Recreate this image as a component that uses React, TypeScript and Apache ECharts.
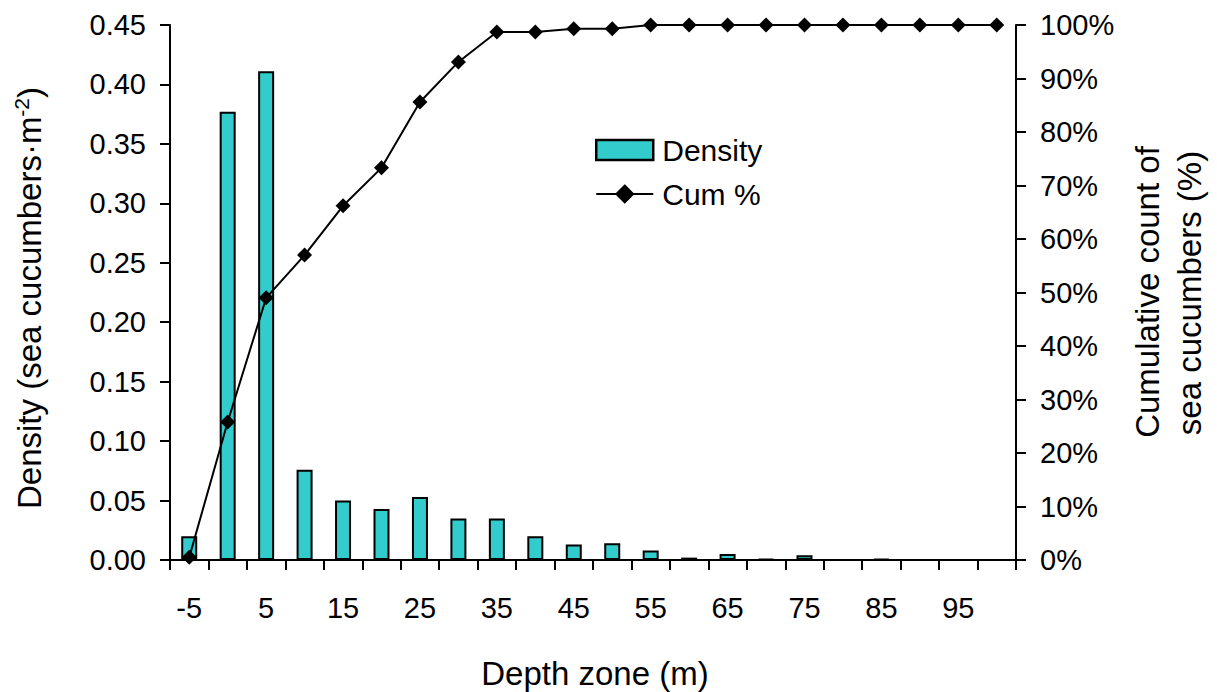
import React, { useEffect, useRef } from "react";
import * as echarts from "echarts";

const categories = ["-5","0","5","10","15","20","25","30","35","40","45","50","55","60","65","70","75","80","85","90","95","100"];
const density = [0.020,0.377,0.411,0.076,0.050,0.043,0.053,0.035,0.035,0.020,0.013,0.014,0.008,0.002,0.005,0.001,0.004,0,0.001,0,0,0];
const cumPct = [0.5,25.8,49.0,57.0,66.2,73.3,85.6,93.1,98.7,98.7,99.3,99.3,100,100,100,100,100,100,100,100,100,100];

const FONT = "Liberation Sans, Arial, sans-serif";
const FS = 29;
const TFS = 33;

export default function App() {
  const ref = useRef<HTMLDivElement>(null);
  useEffect(() => {
    if (!ref.current) return;
    const chart = echarts.init(ref.current, null, { renderer: "svg" });
    const axisLine = { show: true, lineStyle: { color: "#000", width: 2 } };
    const axisTick = { show: true, inside: false, length: 10, lineStyle: { color: "#000", width: 2 } };
    chart.setOption({
      animation: false,
      textStyle: { fontFamily: FONT, color: "#000" },
      grid: { left: 170, right: 201, top: 25, bottom: 132, containLabel: false },
      legend: {
        orient: "vertical",
        left: 590,
        top: 130,
        itemWidth: 57,
        itemHeight: 20,
        itemGap: 14,
        itemStyle: { borderColor: "#000", borderWidth: 2.5 },
        textStyle: { fontFamily: FONT, fontSize: 30, color: "#000", padding: [0, 0, 0, 4] },
        data: [
          { name: "Density", icon: "rect" },
          { name: "Cum %" },
        ],
      },
      xAxis: {
        type: "category",
        data: categories,
        boundaryGap: true,
        axisLine,
        axisTick: { ...axisTick, interval: 0, alignWithLabel: false },
        axisLabel: { interval: 1, margin: 33, fontSize: FS, fontFamily: FONT, color: "#000" },
        splitLine: { show: false },
      },
      yAxis: [
        {
          type: "value",
          min: 0,
          max: 0.45,
          interval: 0.05,
          position: "left",
          axisLine,
          axisTick,
          axisLabel: { margin: 24, fontSize: FS, fontFamily: FONT, color: "#000", formatter: (v: number) => v.toFixed(2) },
          splitLine: { show: false },
        },
        {
          type: "value",
          min: 0,
          max: 100,
          interval: 10,
          position: "right",
          axisLine,
          axisTick,
          axisLabel: { margin: 24, fontSize: FS, fontFamily: FONT, color: "#000", formatter: "{value}%" },
          splitLine: { show: false },
        },
      ],
      series: [
        {
          name: "Density",
          type: "bar",
          yAxisIndex: 0,
          data: density,
          barWidth: 16,
          itemStyle: { color: "#33CCCC", borderColor: "#000", borderWidth: 2 },
        },
        {
          name: "Cum %",
          type: "line",
          yAxisIndex: 1,
          data: cumPct,
          symbol: "diamond",
          symbolSize: 15,
          itemStyle: { color: "#000" },
          lineStyle: { color: "#000", width: 2 },
        },
      ],
      graphic: [
        {
          type: "text",
          x: 28,
          y: 298,
          rotation: Math.PI / 2,
          style: {
            text: "{a|Density (sea cucumbers·m}{s|-2}{a|)}",
            align: "center",
            verticalAlign: "middle",
            fill: "#000",
            rich: {
              a: { fontSize: TFS, fontFamily: FONT, fill: "#000", verticalAlign: "bottom" },
              s: { fontSize: 21, fontFamily: FONT, fill: "#000", verticalAlign: "top", padding: [0, 0, 14, 0] },
            },
          },
        },
        {
          type: "text",
          x: 1147,
          y: 292,
          rotation: Math.PI / 2,
          style: { text: "Cumulative count of", align: "center", verticalAlign: "middle", fontSize: TFS, fontFamily: FONT, fill: "#000" },
        },
        {
          type: "text",
          x: 1189,
          y: 293,
          rotation: Math.PI / 2,
          style: { text: "sea cucumbers (%)", align: "center", verticalAlign: "middle", fontSize: TFS, fontFamily: FONT, fill: "#000" },
        },
        {
          type: "text",
          x: 595,
          y: 673,
          style: { text: "Depth zone (m)", align: "center", verticalAlign: "middle", fontSize: TFS, fontFamily: FONT, fill: "#000" },
        },
      ],
    });
    return () => chart.dispose();
  }, []);
  return <div ref={ref} style={{ width: 1217, height: 692, position: "absolute", left: 0, top: 0 }} />;
}
